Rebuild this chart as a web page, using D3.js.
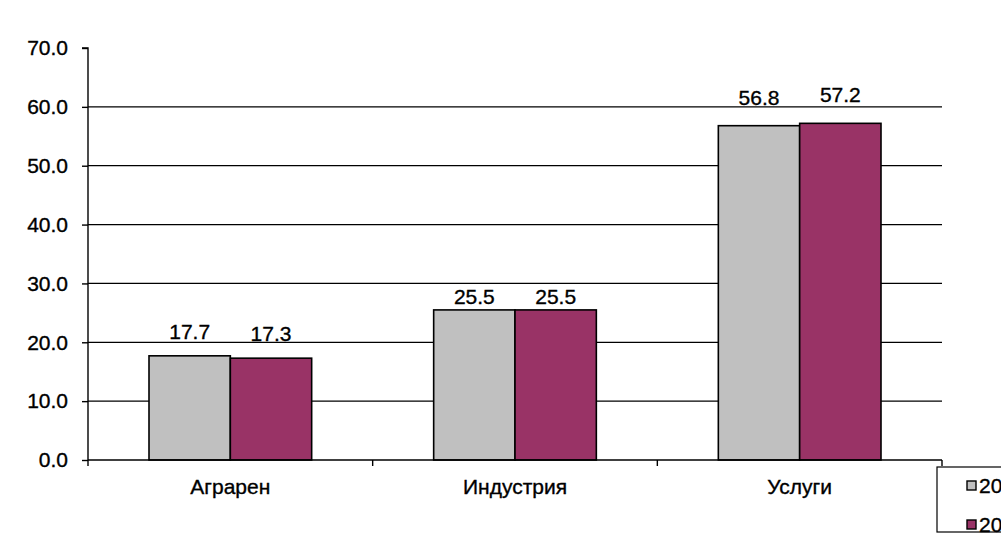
<!DOCTYPE html>
<html>
<head>
<meta charset="utf-8">
<script src="https://cdn.jsdelivr.net/npm/d3@7"></script>
<style>
  body { margin: 0; background: #fff; }
  svg { display: block; font-family: "Liberation Sans", Arial, sans-serif; }
  text { stroke: #000; stroke-width: 0.35px; }
</style>
</head>
<body>
<svg id="chart" width="1001" height="538"></svg>
<script>
// sectors and the two years shown
const categories = ["Аграрен", "Индустрия", "Услуги"];
const seriesNames = ["2007", "2008"];
const values2007 = [17.7, 25.5, 56.8];
const values2008 = [17.3, 25.5, 57.2];
const yTicks = [0, 10, 20, 30, 40, 50, 60, 70];
const colors = ["#c0c0c0", "#993366"];

const svg = d3.select("#chart");
const plotLeft = 88, plotRight = 942, plotTop = 48, plotBottom = 460;
const fontSize = 21;
// labels were nudged by hand in the original, lift per category (px)
const labelLift = { "Аграрен": 17, "Индустрия": 6, "Услуги": 21 };

const x = d3.scaleBand().domain(categories).range([plotLeft, plotRight]).paddingInner(0).paddingOuter(0);
const xs = d3.scaleBand().domain(seriesNames).range([0, x.bandwidth()]).paddingInner(0).paddingOuter(0.75);
const y = d3.scaleLinear().domain([0, 70]).range([plotBottom, plotTop]);

// gridlines
svg.append("g")
    .selectAll("line")
    .data(yTicks.filter(d => d > 0 && d < 70))
    .enter()
    .append("line")
    .attr("x1", plotLeft).attr("x2", plotRight)
    .attr("y1", d => y(d)).attr("y2", d => y(d))
    .attr("stroke", "#000").attr("stroke-width", 1.2);

// bars
const series = seriesNames.map((s, i) => ({ name: s, values: i === 0 ? values2007 : values2008, color: colors[i] }));
series.forEach(s => {
    const g = svg.append("g");
    g.selectAll("rect")
        .data(categories.map((c, i) => ({ cat: c, v: s.values[i] })))
        .enter()
        .append("rect")
        .attr("x", d => x(d.cat) + xs(s.name))
        .attr("y", d => y(d.v))
        .attr("width", xs.bandwidth())
        .attr("height", d => y(0) - y(d.v))
        .attr("fill", s.color)
        .attr("stroke", "#000")
        .attr("stroke-width", 1.6);
    g.selectAll("text")
        .data(categories.map((c, i) => ({ cat: c, v: s.values[i] })))
        .enter()
        .append("text")
        .attr("x", d => x(d.cat) + xs(s.name) + xs.bandwidth() / 2)
        .attr("y", d => y(d.v) - labelLift[d.cat])
        .attr("text-anchor", "middle")
        .attr("font-size", fontSize)
        .text(d => d.v.toFixed(1));
});

// y axis
const yAxis = svg.append("g")
    .attr("transform", `translate(${plotLeft},0)`)
    .call(d3.axisLeft(y).tickValues(yTicks).tickSize(6).tickPadding(14).tickFormat(d3.format(".1f")));
yAxis.select(".domain").attr("stroke", "#000").attr("stroke-width", 1.4).attr("d", `M-6,${plotTop}H0V${plotBottom}`);
yAxis.selectAll(".tick line").attr("stroke-width", 1.4);
yAxis.selectAll("text").attr("font-size", fontSize).attr("font-family", "Liberation Sans, Arial, sans-serif").attr("fill", "#000");

// x axis
const xAxis = svg.append("g")
    .attr("transform", `translate(0,${plotBottom})`)
    .call(d3.axisBottom(x).tickSize(0).tickPadding(19));
xAxis.select(".domain").attr("stroke", "#000").attr("stroke-width", 1.4).attr("d", `M${plotLeft},0H${plotRight}`);
xAxis.selectAll("text").attr("font-size", fontSize).attr("font-family", "Liberation Sans, Arial, sans-serif").attr("fill", "#000");
xAxis.selectAll(".sep")
    .data(categories.map(c => x(c)).concat([plotRight]))
    .enter()
    .append("line")
    .attr("x1", d => d).attr("x2", d => d)
    .attr("y1", 0).attr("y2", 6)
    .attr("stroke", "#000").attr("stroke-width", 1.4);

// legend (runs off the right edge, as in the original)
const legend = svg.append("g").attr("transform", "translate(937,467)");
legend.append("rect")
    .attr("width", 100).attr("height", 65)
    .attr("fill", "#fff").attr("stroke", "#000").attr("stroke-width", 1.2);
series.forEach((s, i) => {
    const item = legend.append("g").attr("transform", `translate(30,${14 + i * 39})`);
    item.append("rect")
        .attr("width", 9).attr("height", 9)
        .attr("fill", s.color).attr("stroke", "#000").attr("stroke-width", 1.4);
    item.append("text")
        .attr("x", 12).attr("y", 12)
        .attr("font-size", fontSize)
        .text(s.name);
});
</script>
</body>
</html>
